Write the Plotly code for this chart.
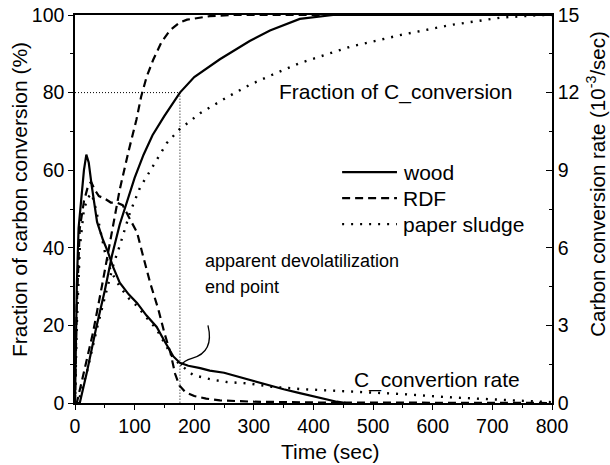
import plotly.graph_objects as go

# ---- data ----
# Fraction of carbon conversion (%), left axis
wood_frac_t = [0, 8, 20, 35, 50, 62, 75, 89, 100, 115, 130, 150, 176, 200, 243, 293, 327, 377, 433, 500, 600, 700, 800]
wood_frac = [0, 0, 8, 19, 29, 38, 46, 53, 58, 64, 69, 74, 80, 84, 88.6, 93.3, 96, 99, 100, 100, 100, 100, 100]

rdf_frac_t = [0, 3, 15, 30, 45, 60, 75, 90, 103, 111, 120, 131, 145, 159, 175, 188, 226, 260, 400, 600, 800]
rdf_frac = [0, 0, 8, 18, 30, 42, 55, 65, 73, 79, 84, 88.4, 93, 96, 98, 98.8, 99.7, 100, 100, 100, 100]

sludge_frac_t = [0, 5, 20, 38, 53, 65, 75, 92, 109, 130, 154, 175, 210, 255, 293, 322, 377, 461, 545, 629, 713, 780, 800]
sludge_frac = [0, 0, 8, 20, 29, 36, 40.5, 49, 55.5, 61, 67, 70.5, 74.7, 78.8, 82, 84, 87.6, 91.8, 94.8, 97.4, 99.3, 100, 100]

# Carbon conversion rate (10^-3/sec), right axis
wood_rate_t = [0, 3, 6, 10, 15, 19, 23, 28, 37, 47, 55, 64, 75, 90, 104, 120, 137, 150, 165, 176, 190, 210, 226, 250, 277, 300, 327, 350, 377, 411, 439, 455]
wood_rate = [0, 4.5, 6.75, 7.8, 9.0, 9.6, 9.3, 8.4, 7.0, 6.3, 5.85, 5.25, 4.65, 4.2, 3.87, 3.38, 2.94, 2.4, 1.8, 1.55, 1.44, 1.35, 1.25, 1.17, 0.99, 0.84, 0.68, 0.53, 0.38, 0.2, 0.05, 0]

rdf_rate_t = [0, 3, 8, 15, 22, 27, 33, 40, 50, 60, 70, 80, 90, 104, 114, 126, 140, 150, 160, 168, 175, 185, 200, 220, 243, 300, 400, 800]
rdf_rate = [0, 3.75, 6.75, 7.8, 8.4, 8.55, 8.25, 8.0, 7.9, 7.75, 7.75, 7.65, 7.2, 6.6, 5.7, 4.65, 3.6, 2.7, 1.95, 1.12, 0.68, 0.42, 0.27, 0.17, 0.1, 0.05, 0.02, 0]

sludge_rate_t = [0, 3, 8, 15, 22, 28, 35, 42, 50, 60, 75, 90, 104, 120, 137, 150, 165, 176, 198, 230, 255, 293, 330, 377, 461, 545, 629, 713, 780, 800]
sludge_rate = [0, 3.0, 6.0, 7.5, 7.95, 8.1, 7.5, 6.75, 5.85, 5.1, 4.5, 4.05, 3.75, 3.3, 2.85, 2.32, 1.72, 1.5, 1.08, 0.9, 0.81, 0.75, 0.63, 0.54, 0.45, 0.35, 0.22, 0.12, 0.05, 0.03]

guide_t = [0, 176, 176]
guide_y = [80, 80, 0]

x_ticks = [0, 100, 200, 300, 400, 500, 600, 700, 800]
y_ticks = [0, 20, 40, 60, 80, 100]
y2_ticks = [0, 3, 6, 9, 12, 15]

series_names = ["wood", "RDF", "paper sludge"]

FONT = "Liberation Sans, Arial, Helvetica, sans-serif"
BLACK = "black"
TXT = 21
SOLID = dict(color=BLACK, width=2.2)
DASH = dict(color=BLACK, width=2.2, dash="8px,5px")
DOT = dict(color=BLACK, width=2.4, dash="2px,7px")
STYLES = [SOLID, DASH, DOT]

fig = go.Figure()

# fraction curves
for t, v, name, st in zip([wood_frac_t, rdf_frac_t, sludge_frac_t], [wood_frac, rdf_frac, sludge_frac], series_names, STYLES):
    fig.add_trace(go.Scatter(x=t, y=v, mode="lines", line=st, name=name, showlegend=False))

# rate curves
for t, v, name, st in zip([wood_rate_t, rdf_rate_t, sludge_rate_t], [wood_rate, rdf_rate, sludge_rate], series_names, STYLES):
    fig.add_trace(go.Scatter(x=t, y=v, mode="lines", line=st, name=name, yaxis="y2", showlegend=False))

# 80% guide
fig.add_trace(go.Scatter(x=guide_t, y=guide_y, mode="lines", line=dict(color=BLACK, width=1, dash="1px,2px"), showlegend=False))

# curved pointer for the end-point annotation
fig.add_shape(type="path", xref="x", yref="y",
              path="M 223 20 C 231 15, 220 12.5, 196 11.5 Q 183 11, 177 9.6",
              line=dict(color=BLACK, width=1.3))

# hand-built legend (sample lines + labels)
legend_rows_y = [0.595, 0.528, 0.461]
annotations = []
for name, st, ly in zip(series_names, STYLES, legend_rows_y):
    fig.add_shape(type="line", xref="paper", yref="paper", x0=0.560, x1=0.675, y0=ly, y1=ly,
                  line=dict(color=BLACK, width=st["width"], dash=st.get("dash", "solid")))
    annotations.append(dict(text=name, xref="paper", yref="paper", x=0.684, y=ly, xanchor="left",
                            yanchor="middle", showarrow=False, font=dict(size=TXT)))

axis_common = dict(showgrid=False, zeroline=False, showline=True, linecolor=BLACK, linewidth=1.5,
                   automargin=False,
                   tickfont=dict(family=FONT, size=19.5, color=BLACK), tickcolor=BLACK)

annotations += [
    dict(text="Time (sec)", xref="paper", yref="paper", x=0.535, y=-0.125, xanchor="center",
         yanchor="middle", showarrow=False, font=dict(size=TXT)),
    dict(text="Fraction of carbon conversion (%)", xref="paper", yref="paper", x=0, xshift=-56,
         xanchor="center", y=0.523, textangle=-90, showarrow=False, font=dict(size=TXT)),
    dict(text="Carbon conversion rate (10<sup>-3</sup>/sec)", xref="paper", yref="paper", x=1, xshift=44,
         xanchor="center", y=0.565, textangle=-90, showarrow=False, font=dict(size=20.5)),
    dict(text="Fraction of C_conversion", xref="x", yref="y", x=339, y=80.2, xanchor="left",
         showarrow=False, font=dict(size=TXT)),
    dict(text="C_convertion rate", xref="x", yref="y", x=464, y=5.9, xanchor="left",
         showarrow=False, font=dict(size=TXT)),
    dict(text="apparent devolatilization", xref="x", yref="y", x=215, y=36.6, xanchor="left",
         showarrow=False, font=dict(size=18)),
    dict(text="end point", xref="x", yref="y", x=215, y=29.9, xanchor="left",
         showarrow=False, font=dict(size=18)),
]

fig.update_layout(
    width=610, height=465,
    margin=dict(l=75, r=58, t=15, b=62),
    plot_bgcolor="white", paper_bgcolor="white",
    font=dict(family=FONT, size=TXT, color=BLACK),
    xaxis=dict(range=[0, 800], tickvals=x_ticks, ticks="outside", ticklen=5, tickwidth=1.3,
               minor=dict(dtick=50, ticks="outside", ticklen=3, tickcolor=BLACK),
               mirror=True, **axis_common),
    yaxis=dict(range=[0, 100], tickvals=y_ticks, ticks="outside", ticklen=5, tickwidth=1.3,
               minor=dict(dtick=10, ticks="outside", ticklen=3, tickcolor=BLACK),
               **axis_common),
    yaxis2=dict(range=[0, 15], tickvals=y2_ticks, ticks="inside", ticklen=6, tickwidth=1.3,
                minor=dict(dtick=1.5, ticks="inside", ticklen=3, tickcolor=BLACK),
                overlaying="y", side="right", **axis_common),
    showlegend=False,
    annotations=annotations,
)

fig.write_html("out.html")
